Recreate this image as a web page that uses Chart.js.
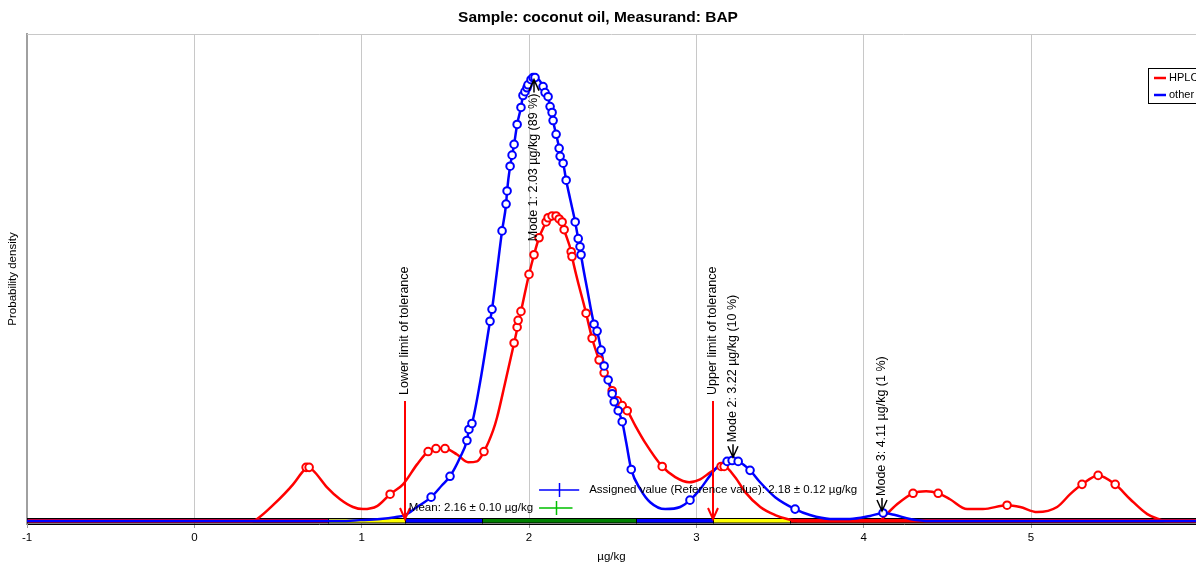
<!DOCTYPE html>
<html lang="en">
<head>
<meta charset="UTF-8">
<title>Sample: coconut oil, Measurand: BAP</title>
<script src="https://cdn.jsdelivr.net/npm/chart.js@4.4.1/dist/chart.umd.min.js"></script>
<style>
    html, body {margin:0;padding:0;background:#fff;}
    canvas {display:block;}
</style>
</head>
<body>
<canvas id="densityChart" width="1196" height="564"></canvas>
<script>
    // kernel density of the HPLC results (µg/kg -> probability density)
    const hplcX = [-1.00, 0.345, 0.375, 0.470, 0.590, 0.644, 0.674, 0.709, 0.793, 0.871,
        0.948, 1.008, 1.092, 1.170, 1.247, 1.331, 1.397, 1.444, 1.498, 1.570,
        1.636, 1.689, 1.731, 1.785, 1.809, 1.857, 1.911, 1.952, 2.000, 2.030,
        2.060, 2.102, 2.114, 2.138, 2.162, 2.180, 2.198, 2.210, 2.252, 2.257,
        2.341, 2.377, 2.419, 2.449, 2.497, 2.527, 2.557, 2.587, 2.635, 2.694,
        2.796, 2.874, 2.957, 3.023, 3.083, 3.148, 3.166, 3.232, 3.292, 3.382,
        3.471, 3.543, 3.621, 4.098, 4.110, 4.201, 4.295, 4.373, 4.445, 4.516,
        4.618, 4.713, 4.857, 4.935, 5.036, 5.156, 5.234, 5.305, 5.401, 5.503,
        5.593, 5.695, 5.761, 5.803, 5.986];
    const hplcDensity = [0, 0, 0.007, 0.053, 0.123, 0.163, 0.180, 0.170, 0.113, 0.073,
        0.047, 0.040, 0.050, 0.090, 0.123, 0.190, 0.233, 0.243, 0.243, 0.223,
        0.197, 0.200, 0.233, 0.303, 0.347, 0.463, 0.597, 0.703, 0.827, 0.893,
        0.950, 1.003, 1.017, 1.023, 1.023, 1.013, 1.003, 0.977, 0.903, 0.887,
        0.697, 0.613, 0.540, 0.497, 0.437, 0.403, 0.387, 0.370, 0.320, 0.263,
        0.183, 0.147, 0.130, 0.140, 0.163, 0.183, 0.183, 0.147, 0.097, 0.047,
        0.020, 0.007, 0, 0, 0.007, 0.057, 0.093, 0.100, 0.093, 0.073,
        0.040, 0.040, 0.053, 0.047, 0.030, 0.047, 0.090, 0.123, 0.153, 0.123,
        0.073, 0.023, 0.007, 0, 0];

    // single HPLC lab results, placed on their curve
    const hplcLabX = [0.668, 0.686, 1.170, 1.397, 1.444, 1.498, 1.731, 1.911, 1.929, 1.935,
        1.952, 2.000, 2.030, 2.060, 2.102, 2.114, 2.138, 2.162, 2.180, 2.198,
        2.210, 2.252, 2.257, 2.341, 2.377, 2.419, 2.449, 2.497, 2.527, 2.557,
        2.587, 2.796, 3.148, 3.166, 4.295, 4.445, 4.857, 5.305, 5.401, 5.503];
    const hplcLabDensity = [0.180, 0.180, 0.090, 0.233, 0.243, 0.243, 0.233, 0.597, 0.650, 0.673,
        0.703, 0.827, 0.893, 0.950, 1.003, 1.017, 1.023, 1.023, 1.013, 1.003,
        0.977, 0.903, 0.887, 0.697, 0.613, 0.540, 0.497, 0.437, 0.403, 0.387,
        0.370, 0.183, 0.183, 0.183, 0.093, 0.093, 0.053, 0.123, 0.153, 0.123];

    // kernel density of the other methods
    const otherX = [-1.00, 0.871, 0.990, 1.110, 1.199, 1.259, 1.331, 1.415, 1.480, 1.528,
        1.588, 1.629, 1.641, 1.659, 1.707, 1.767, 1.779, 1.803, 1.839, 1.863,
        1.869, 1.887, 1.899, 1.911, 1.929, 1.952, 1.964, 1.976, 1.988, 1.994,
        2.012, 2.024, 2.036, 2.060, 2.084, 2.096, 2.114, 2.126, 2.138, 2.144,
        2.162, 2.180, 2.186, 2.204, 2.222, 2.246, 2.276, 2.294, 2.305, 2.311,
        2.347, 2.389, 2.407, 2.431, 2.449, 2.473, 2.497, 2.509, 2.533, 2.557,
        2.581, 2.611, 2.665, 2.724, 2.814, 2.903, 2.962, 3.023, 3.083, 3.142,
        3.184, 3.214, 3.250, 3.321, 3.381, 3.471, 3.590, 3.679, 3.799, 3.918,
        4.038, 4.116, 4.188, 4.277, 4.397, 5.986];
    const otherDensity = [0, 0, 0.003, 0.007, 0.013, 0.020, 0.047, 0.080, 0.120, 0.150,
        0.213, 0.270, 0.307, 0.327, 0.463, 0.670, 0.710, 0.813, 0.973, 1.063,
        1.107, 1.190, 1.227, 1.263, 1.330, 1.387, 1.427, 1.440, 1.453, 1.463,
        1.480, 1.487, 1.487, 1.480, 1.457, 1.437, 1.423, 1.390, 1.370, 1.343,
        1.297, 1.250, 1.223, 1.200, 1.143, 1.080, 1.003, 0.947, 0.920, 0.893,
        0.780, 0.660, 0.637, 0.573, 0.520, 0.473, 0.427, 0.400, 0.370, 0.333,
        0.263, 0.173, 0.107, 0.063, 0.040, 0.047, 0.070, 0.107, 0.153, 0.190,
        0.200, 0.203, 0.200, 0.170, 0.130, 0.080, 0.040, 0.020, 0.007, 0.007,
        0.017, 0.027, 0.020, 0.007, 0, 0];

    const otherLabX = [1.415, 1.528, 1.629, 1.641, 1.659, 1.767, 1.779, 1.839, 1.863, 1.869,
        1.887, 1.899, 1.911, 1.929, 1.952, 1.964, 1.976, 1.988, 1.994, 2.012,
        2.024, 2.036, 2.084, 2.096, 2.114, 2.126, 2.138, 2.144, 2.162, 2.180,
        2.186, 2.204, 2.222, 2.276, 2.294, 2.305, 2.311, 2.389, 2.407, 2.431,
        2.449, 2.473, 2.497, 2.509, 2.533, 2.557, 2.611, 2.962, 3.184, 3.214,
        3.250, 3.321, 3.590, 4.116];
    const otherLabDensity = [0.080, 0.150, 0.270, 0.307, 0.327, 0.670, 0.710, 0.973, 1.063, 1.107,
        1.190, 1.227, 1.263, 1.330, 1.387, 1.427, 1.440, 1.453, 1.463, 1.480,
        1.487, 1.487, 1.457, 1.437, 1.423, 1.390, 1.370, 1.343, 1.297, 1.250,
        1.223, 1.200, 1.143, 1.003, 0.947, 0.920, 0.893, 0.660, 0.637, 0.573,
        0.520, 0.473, 0.427, 0.400, 0.370, 0.333, 0.173, 0.070, 0.200, 0.203,
        0.200, 0.170, 0.040, 0.027];

    const seriesNames = ['HPLC', 'other'];
    const seriesColors = ['#ff0000', '#0000ff'];

    const assignedValue = 2.18, assignedU = 0.12;
    const meanValue = 2.16, meanU = 0.10;
    const lowerLimit = 1.26, upperLimit = 3.10;

    // z-score zones along the axis: |z|>3, 2..3, 1..2, <1, 1..2, 2..3, >3
    const zoneEdges = [0.80, 1.26, 1.72, 2.64, 3.10, 3.56];
    const zoneColors = ['#ff0000', '#ffff00', '#0000ff', '#008000', '#0000ff', '#ffff00', '#ff0000'];

    const modeX = [2.03, 3.22, 4.11];
    const modeDensity = [1.487, 0.207, 0.027];
    const modeShare = [89, 10, 1];

    const FONT = "'Liberation Sans', Arial, Helvetica, sans-serif";
    Chart.defaults.font.family = FONT;
    Chart.defaults.color = '#000';

    function pts(xs, ys) {
        return xs.map((v, i) => ({x: v, y: ys[i]}));
    }

    function arrow(ctx, px, from, to) {
        // line from -> to, head at "to"
        const dir = to > from ? 1 : -1;
        ctx.beginPath();
        ctx.moveTo(px, from);
        ctx.lineTo(px, to);
        ctx.moveTo(px - 5, to - dir * 11);
        ctx.lineTo(px, to);
        ctx.lineTo(px + 5, to - dir * 11);
        ctx.stroke();
    }

    function vText(ctx, text, px, py, align) {
        ctx.save();
        ctx.translate(px, py);
        ctx.rotate(-Math.PI / 2);
        ctx.textAlign = align;
        ctx.textBaseline = 'middle';
        ctx.fillText(text, 0, 0);
        ctx.restore();
    }

    const decor = {
        id: 'decor',
        beforeDatasetsDraw(chart) {
            const {ctx, chartArea: a, scales: {x}} = chart;
            ctx.save();
            ctx.strokeStyle = '#c8c8c8';
            ctx.lineWidth = 1;
            ctx.beginPath();
            ctx.moveTo(a.left, a.top + 0.5);
            ctx.lineTo(a.right, a.top + 0.5);
            ctx.stroke();

            const edges = [x.min, ...zoneEdges, x.max];
            const top = a.bottom - 6;
            for (let i = 0; i < zoneColors.length; i++) {
                const x0 = Math.round(x.getPixelForValue(edges[i]));
                const x1 = Math.round(x.getPixelForValue(edges[i + 1]));
                ctx.fillStyle = zoneColors[i];
                ctx.fillRect(x0, top, x1 - x0, 5);
                ctx.strokeStyle = '#000';
                ctx.strokeRect(x0 + 0.5, top + 0.5, x1 - x0, 4.5);
            }
            ctx.restore();
        },
        afterDatasetsDraw(chart) {
            const {ctx, chartArea: a, scales: {x, y}} = chart;
            const y0 = y.getPixelForValue(0);
            ctx.save();
            ctx.fillStyle = '#000';

            // tolerance limits
            ctx.strokeStyle = '#ff0000';
            ctx.lineWidth = 2;
            ctx.font = '12.5px ' + FONT;
            [[lowerLimit, 'Lower limit of tolerance'], [upperLimit, 'Upper limit of tolerance']].forEach(([v, t]) => {
                const px = Math.round(x.getPixelForValue(v));
                arrow(ctx, px, y0 - 120, y0 - 2);
                vText(ctx, t, px, y0 - 126, 'left');
            });

            // modes
            ctx.strokeStyle = '#000';
            ctx.lineWidth = 1.5;
            modeX.forEach((m, i) => {
                const px = Math.round(x.getPixelForValue(m));
                const py = y.getPixelForValue(modeDensity[i]);
                const label = 'Mode ' + (i + 1) + ': ' + m.toFixed(2) + ' µg/kg (' + modeShare[i] + ' %)';
                if (py - 170 < a.top) {
                    arrow(ctx, px, py + 15, py + 2);
                    vText(ctx, label, px, py + 16, 'right');
                } else {
                    arrow(ctx, px, py - 15, py - 2);
                    vText(ctx, label, px, py - 17, 'left');
                }
            });

            // assigned value and mean with their uncertainties
            ctx.font = '11.5px ' + FONT;
            ctx.textBaseline = 'middle';
            const bar = (c, u, py, color) => {
                const x0 = x.getPixelForValue(c - u), x1 = x.getPixelForValue(c + u);
                const xc = Math.round(x.getPixelForValue(c)) + 0.5;
                ctx.strokeStyle = color;
                ctx.lineWidth = 1.5;
                ctx.beginPath();
                ctx.moveTo(x0, py);
                ctx.lineTo(x1, py);
                ctx.moveTo(xc, py - 7);
                ctx.lineTo(xc, py + 7);
                ctx.stroke();
                return [x0, x1];
            };
            const pa = bar(assignedValue, assignedU, a.bottom - 34, '#0000ff');
            ctx.textAlign = 'left';
            ctx.fillText('Assigned value (Reference value): ' + assignedValue.toFixed(2) + ' ± ' +
                assignedU.toFixed(2) + ' µg/kg', pa[1] + 10, a.bottom - 34);
            const pm = bar(meanValue, meanU, a.bottom - 16, '#00c000');
            ctx.textAlign = 'right';
            ctx.fillText('Mean: ' + meanValue.toFixed(2) + ' ± ' + meanU.toFixed(2) + ' µg/kg', pm[0] - 6, a.bottom - 16);

            // legend box
            ctx.fillStyle = '#fff';
            ctx.fillRect(1148, 68, 60, 35);
            ctx.strokeStyle = '#000';
            ctx.lineWidth = 1;
            ctx.strokeRect(1148.5, 68.5, 60, 35);
            ctx.font = '11px ' + FONT;
            ctx.textAlign = 'left';
            seriesNames.forEach((n, i) => {
                const ly = 78 + i * 17;
                ctx.strokeStyle = seriesColors[i];
                ctx.lineWidth = 2.5;
                ctx.beginPath();
                ctx.moveTo(1154, ly);
                ctx.lineTo(1166, ly);
                ctx.stroke();
                ctx.fillStyle = '#000';
                ctx.fillText(n, 1169, ly);
            });
            ctx.restore();
        }
    };

    const markerStyle = (color) => ({
        showLine: false,
        pointRadius: 3.8,
        pointBorderWidth: 2,
        pointBackgroundColor: '#fff',
        pointBorderColor: color,
        borderColor: color
    });
    const curveStyle = (color) => ({
        showLine: true,
        borderColor: color,
        borderWidth: 2.5,
        pointRadius: 0,
        cubicInterpolationMode: 'monotone'
    });

    new Chart(document.getElementById('densityChart'), {
        type: 'scatter',
        data: {
            datasets: [
                Object.assign({label: seriesNames[1] + ' results', data: pts(otherLabX, otherLabDensity)}, markerStyle(seriesColors[1])),
                Object.assign({label: seriesNames[0] + ' results', data: pts(hplcLabX, hplcLabDensity)}, markerStyle(seriesColors[0])),
                Object.assign({label: seriesNames[1], data: pts(otherX, otherDensity)}, curveStyle(seriesColors[1])),
                Object.assign({label: seriesNames[0], data: pts(hplcX, hplcDensity)}, curveStyle(seriesColors[0]))
            ]
        },
        options: {
            responsive: false,
            animation: false,
            layout: {padding: 0, autoPadding: false},
            plugins: {
                legend: {display: false},
                tooltip: {enabled: false},
                title: {
                    display: true,
                    text: 'Sample: coconut oil, Measurand: BAP',
                    font: {size: 15.5, weight: 'bold'},
                    color: '#000',
                    padding: {top: 8.2, bottom: 7.2}
                }
            },
            scales: {
                x: {
                    type: 'linear',
                    min: -1,
                    max: 5.986,
                    ticks: {stepSize: 1, includeBounds: false, font: {size: 11.5}, color: '#000', padding: 3},
                    grid: {color: '#c8c8c8', tickLength: 4, tickColor: '#999'},
                    border: {display: true, color: '#000'},
                    title: {display: true, text: 'µg/kg', font: {size: 11.5}, color: '#000', padding: {top: 2.4, bottom: 0}}
                },
                y: {
                    type: 'linear',
                    min: -0.01,
                    max: 1.6333,
                    ticks: {display: false},
                    grid: {display: false, drawTicks: false},
                    border: {display: true, color: '#a0a0a0', width: 2},
                    title: {display: true, text: 'Probability density', font: {size: 11.5}, color: '#000', padding: {top: 6, bottom: 7.2}}
                }
            }
        },
        plugins: [decor]
    });
</script>
</body>
</html>
